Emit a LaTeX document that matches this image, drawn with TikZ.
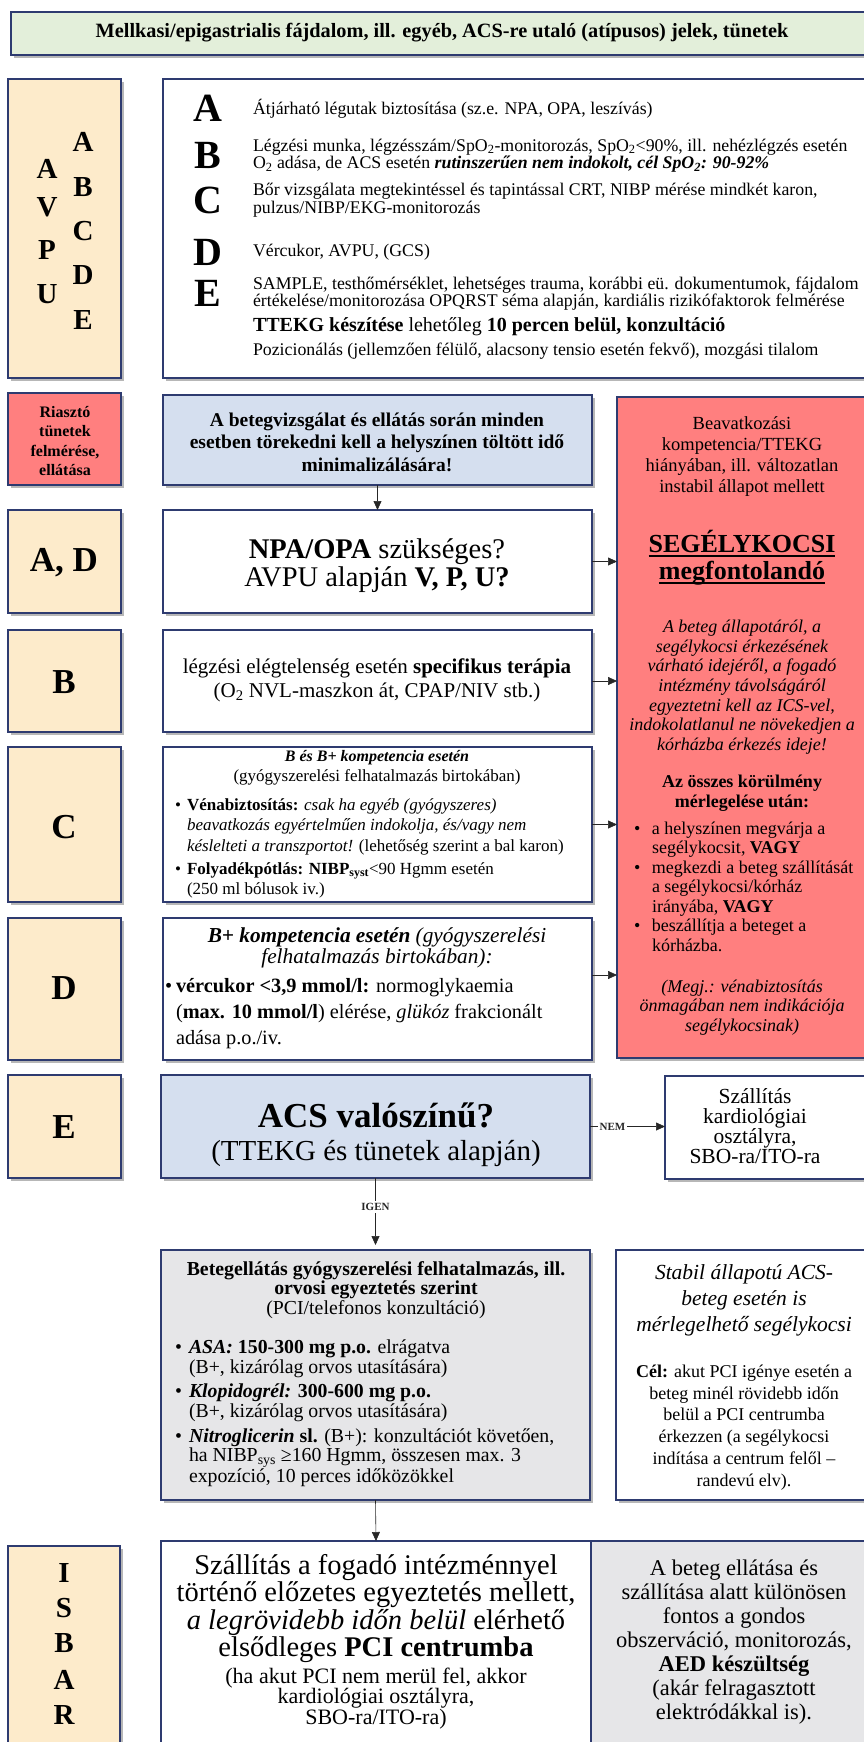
\documentclass[tikz,border=0pt]{standalone}
\usepackage{fontspec}
\setmainfont{Liberation Serif}
\usetikzlibrary{shadows,arrows.meta,fit}
\definecolor{navy}{HTML}{2E3B70}
\definecolor{ylw}{HTML}{FDEBCB}
\definecolor{rd}{HTML}{FF7F7F}
\definecolor{bl}{HTML}{D5DFEF}
\definecolor{gr}{HTML}{E6E6E8}
\definecolor{grn}{HTML}{E3EFDA}
\newcommand\fsz[2]{\fontsize{#1}{#2}\selectfont}
\newcommand\thickul[1]{\setbox0=\hbox{#1}\leavevmode\rlap{\rule[-4.5pt]{\wd0}{2.4pt}}\box0}
\newcommand\bu[1]{\makebox[#1][l]{•}}
\newcommand\ii[1]{\hspace*{#1}}
\begin{document}
\begin{tikzpicture}[x=1pt,y=-1pt,
 box/.style={draw=navy,line width=1.3pt,inner sep=0pt,outer sep=0pt,
   drop shadow={shadow xshift=2.5pt,shadow yshift=-3pt,opacity=0.35,fill=black!80}},
 txt/.style={inner sep=0pt,outer sep=0pt,align=center},
 ltxt/.style={inner sep=0pt,outer sep=0pt,align=left,anchor=west},
 lett/.style={inner sep=0pt,font=\bfseries\fsz{35}{35}},
 arr/.style={-{Triangle[length=9pt,width=8pt]},line width=0.6pt,black!85},
 lbl/.style={fill=white,inner sep=2pt,font=\bfseries\fsz{11}{12}}
]
\useasboundingbox (0,0) rectangle (864,1742);
\fill[white] (0,0) rectangle (864,1742);
\clip (0,0) rectangle (864,1742);

% banner
\node[box,fill=grn,fit={(11,12) (880,55)}] (top) {};
\node[txt,font=\bfseries\fsz{20.3}{22}] (toptxt) at (442,33) {Mellkasi/epigastrialis fájdalom, ill. egyéb, ACS-re utaló (atípusos) jelek, tünetek};

% AVPU / ABCDE
\node[box,fill=ylw,fit={(8,79) (121,378)}] (avpu) {};
\foreach \l/\yy in {A/169,V/207,P/250,U/294}
  \node[lett,font=\bfseries\fsz{29}{29}] (av\l) at (47,\yy) {\l};
\foreach \l/\yy in {A/142,B/187,C/231,D/275,E/320}
  \node[lett,font=\bfseries\fsz{29}{29}] (ab\l) at (83,\yy) {\l};

\node[box,fill=white,fit={(163,79) (880,378)}] (abcde) {};
\foreach \l/\yy in {A/108,B/155,C/200,D/252,E/293}
  \node[lett,font=\bfseries\fsz{40}{40}] (big\l) at (208,\yy) {\l};
\node[ltxt,font=\fsz{17.8}{17}] (tA) at (253,109) {Átjárható légutak biztosítása (sz.e. NPA, OPA, leszívás)};
\node[ltxt,font=\fsz{17.8}{17.5}] (tB) at (253,155.5) {Légzési munka, légzésszám/SpO\textsubscript{2}-monitorozás, SpO\textsubscript{2}<90\%, ill. nehézlégzés esetén\\O\textsubscript{2} adása, de ACS esetén \textbf{\textit{rutinszerűen nem indokolt, cél SpO\textsubscript{2}: 90-92\%}}};
\node[ltxt,font=\fsz{17.8}{18.5}] (tC) at (253,200) {Bőr vizsgálata megtekintéssel és tapintással CRT, NIBP mérése mindkét karon,\\pulzus/NIBP/EKG-monitorozás};
\node[ltxt,font=\fsz{17.8}{17}] (tD) at (253,252) {Vércukor, AVPU, (GCS)};
\node[ltxt,font=\fsz{17.8}{17.5}] (tE) at (253,293.5) {SAMPLE, testhőmérséklet, lehetséges trauma, korábbi eü. dokumentumok, fájdalom\\értékelése/monitorozása OPQRST séma alapján, kardiális rizikófaktorok felmérése};
\node[ltxt,font=\fsz{20}{20}] (tT) at (253,327) {\textbf{TTEKG készítése} lehetőleg \textbf{10 percen belül, konzultáció}};
\node[ltxt,font=\fsz{17.8}{17}] (tP) at (253,351) {Pozicionálás (jellemzően félülő, alacsony tensio esetén fekvő), mozgási tilalom};

% Riaszto row
\node[box,fill=rd,fit={(8,393) (121,485)}] (riaszto) {};
\node[txt,font=\bfseries\fsz{16}{19.3}] (riasztotxt) at (65,441) {Riasztó\\tünetek\\felmérése,\\ellátása};
\node[box,fill=bl,fit={(163,395) (592,485)}] (blue) {};
\node[txt,font=\bfseries\fsz{19.5}{22.5}] (bluetxt) at (377,442) {A betegvizsgálat és ellátás során minden\\esetben törekedni kell a helyszínen töltött idő\\minimalizálására!};

% big red box
\node[box,fill=rd,fit={(617,397) (880,1058)}] (red) {};
\node[txt,font=\fsz{18.5}{21}] (r1) at (742,456.5) {Beavatkozási\\kompetencia/TTEKG\\hiányában, ill. változatlan\\instabil állapot mellett};
\node[txt,font=\bfseries\fsz{26}{27}] (r2) at (742,558) {\thickul{SEGÉLYKOCSI}\\\thickul{megfontolandó}};
\node[txt,font=\itshape\fsz{18}{19.67}] (r3) at (742,687) {A beteg állapotáról, a\\segélykocsi érkezésének\\várható idejéről, a fogadó\\intézmény távolságáról\\egyeztetni kell az ICS-vel,\\indokolatlanul ne növekedjen a\\kórházba érkezés ideje!};
\node[txt,font=\bfseries\fsz{18}{20}] (r4) at (742,793) {Az összes körülmény\\mérlegelése után:};
\node[ltxt,font=\fsz{18}{19.5}] (r5) at (634,886.5) {\bu{18pt}a helyszínen megvárja a\\\ii{18pt}segélykocsit, \textbf{VAGY}\\\bu{18pt}megkezdi a beteg szállítását\\\ii{18pt}a segélykocsi/kórház\\\ii{18pt}irányába, \textbf{VAGY}\\\bu{18pt}beszállítja a beteget a\\\ii{18pt}kórházba.};
\node[txt,font=\itshape\fsz{18}{19.5}] (r6) at (742,1007.5) {(Megj.: vénabiztosítás\\önmagában nem indikációja\\segélykocsinak)};

% A, D row
\node[box,fill=ylw,fit={(8,510) (121,613)}] (ad) {};
\node[lett] (adtxt) at (64,563) {A, D};
\node[box,fill=white,fit={(163,510) (592,613)}] (npa) {};
\node[txt,font=\fsz{28.5}{28}] (npatxt) at (377,566) {\textbf{NPA/OPA} szükséges?\\AVPU alapján \textbf{V, P, U?}};

% B row
\node[box,fill=ylw,fit={(8,630) (121,732)}] (b) {};
\node[lett] (btxt) at (64,682) {B};
\node[box,fill=white,fit={(163,630) (592,732)}] (legz) {};
\node[txt,font=\fsz{21}{24}] (legztxt) at (377,680) {légzési elégtelenség esetén \textbf{specifikus terápia}\\(O\textsubscript{2} NVL-maszkon át, CPAP/NIV stb.)};

% C row
\node[box,fill=ylw,fit={(8,747) (121,902)}] (c) {};
\node[lett] (ctxt) at (64,827) {C};
\node[box,fill=white,fit={(163,747) (592,902)}] (cbox) {};
\node[txt,font=\bfseries\itshape\fsz{16}{16}] (c1) at (377,758) {B és B+ kompetencia esetén};
\node[txt,font=\fsz{17}{18}] (c2) at (377,777) {(gyógyszerelési felhatalmazás birtokában)};
\node[ltxt,font=\fsz{17}{20.5}] (c3) at (175,826.5) {\bu{12pt}\textbf{Vénabiztosítás:} \textit{csak ha egyéb (gyógyszeres)}\\\ii{12pt}\textit{beavatkozás egyértelműen indokolja, és/vagy nem}\\\ii{12pt}\textit{késlelteti a transzportot!} (lehetőség szerint a bal karon)};
\node[ltxt,font=\fsz{17}{20}] (c4) at (175,880) {\bu{12pt}\textbf{Folyadékpótlás: NIBP\textsubscript{syst}}<90 Hgmm esetén\\\ii{12pt}(250 ml bólusok iv.)};

% D row
\node[box,fill=ylw,fit={(8,918) (121,1060)}] (d) {};
\node[lett] (dtxt) at (64,988) {D};
\node[box,fill=white,fit={(163,918) (592,1060)}] (dbox) {};
\node[txt,font=\itshape\fsz{21.3}{21}] (d1) at (377,947.5) {\textbf{B+ kompetencia esetén} (gyógyszerelési\\felhatalmazás birtokában):};
\node[ltxt,font=\fsz{20.3}{26}] (d2) at (165,1014) {\bu{11pt}\textbf{vércukor <3,9 mmol/l:} normoglykaemia\\\ii{11pt}(\textbf{max. 10 mmol/l}) elérése, \textit{glükóz} frakcionált\\\ii{11pt}adása p.o./iv.};

% E row
\node[box,fill=ylw,fit={(8,1075) (121,1178)}] (e) {};
\node[lett] (etxt) at (64,1127) {E};
\node[box,fill=bl,fit={(161,1075) (590,1178)}] (acs) {};
\node[txt,font=\bfseries\fsz{35}{36}] (acs1) at (376,1115) {ACS valószínű?};
\node[txt,font=\fsz{29}{30}] (acs2) at (376,1153) {(TTEKG és tünetek alapján)};
\node[box,fill=white,fit={(665,1076) (880,1179)}] (szall) {};
\node[txt,font=\fsz{21.5}{19.5}] (szalltxt) at (755,1126) {Szállítás\\kardiológiai\\osztályra,\\SBO-ra/ITO-ra};

% gray box and stable box
\node[box,fill=gr,fit={(161,1250) (590,1500)}] (gray) {};
\node[txt,font=\bfseries\fsz{19.8}{17.5}] (g1) at (376,1280.5) {Betegellátás gyógyszerelési felhatalmazás, ill.\\orvosi egyeztetés szerint};
\node[txt,font=\fsz{19.8}{19}] (g2) at (376,1310) {(PCI/telefonos konzultáció)};
\node[ltxt,font=\fsz{19.8}{19.5}] (g3) at (175,1358.5) {\bu{14pt}\textbf{\textit{ASA:} 150-300 mg p.o.} elrágatva\\\ii{14pt}(B+, kizárólag orvos utasítására)};
\node[ltxt,font=\fsz{19.8}{20}] (g4) at (175,1403) {\bu{14pt}\textbf{\textit{Klopidogrél:} 300-600 mg p.o.}\\\ii{14pt}(B+, kizárólag orvos utasítására)};
\node[ltxt,font=\fsz{19.8}{19}] (g5) at (175,1458) {\bu{14pt}\textbf{\textit{Nitroglicerin} sl.} (B+): konzultációt követően,\\\ii{14pt}ha NIBP\textsubscript{sys} ≥160 Hgmm, összesen max. 3\\\ii{14pt}expozíció, 10 perces időközökkel};

\node[box,fill=white,fit={(616,1250) (880,1500)}] (stabil) {};
\node[txt,font=\itshape\fsz{21.5}{26}] (s1) at (744,1300) {Stabil állapotú ACS-\\beteg esetén is\\mérlegelhető segélykocsi};
\node[txt,font=\fsz{18}{21.8}] (s2) at (744,1427.5) {\textbf{Cél:} akut PCI igénye esetén a\\beteg minél rövidebb időn\\belül a PCI centrumba\\érkezzen (a segélykocsi\\indítása a centrum felől –\\randevú elv).};

% ISBAR row
\node[box,fill=ylw,fit={(8,1546) (120,1760)}] (isbar) {};
\foreach \l/\yy in {I/1573,S/1608,B/1643,A/1680,R/1715}
  \node[lett,font=\bfseries\fsz{29}{29}] (is\l) at (64,\yy) {\l};
\node[box,fill=white,fit={(161,1541) (591,1760)}] (bw) {};
\node[txt,font=\fsz{28.5}{25.7}] (bw1) at (376,1608.5) {Szállítás a fogadó intézménnyel\\történő előzetes egyeztetés mellett,\\\textit{a legrövidebb időn belül} elérhető\\elsődleges \textbf{PCI centrumba}};
\node[txt,font=\fsz{22}{20}] (bw2) at (376,1699) {(ha akut PCI nem merül fel, akkor\\kardiológiai osztályra,\\SBO-ra/ITO-ra)};
\node[box,fill=gr,fit={(591,1541) (880,1760)}] (bg) {};
\node[txt,font=\fsz{22.5}{24}] (bgtxt) at (734,1642.5) {A beteg ellátása és\\szállítása alatt különösen\\fontos a gondos\\obszerváció, monitorozás,\\\textbf{AED készültség}\\(akár felragasztott\\elektródákkal is).};

% connectors
\coordinate (dA) at (592,975);
\draw[arr] (blue.south) -- (npa.north);
\draw[arr] (npa.east) -- (npa.east -| red.west);
\draw[arr] (legz.east) -- (legz.east -| red.west);
\draw[arr] (cbox.east) -- (cbox.east -| red.west);
\draw[arr] (dA) -- (dA -| red.west);
\draw[arr] (acs.east) -- node[lbl,pos=0.3] (nem) {NEM} (acs.east -| szall.west);
\draw[arr,shorten >=5pt] (acs.south) -- node[lbl,pos=0.4] (igen) {IGEN} (gray.north);
\draw[arr] (gray.south) -- (bw.north);
\end{tikzpicture}
\end{document}
